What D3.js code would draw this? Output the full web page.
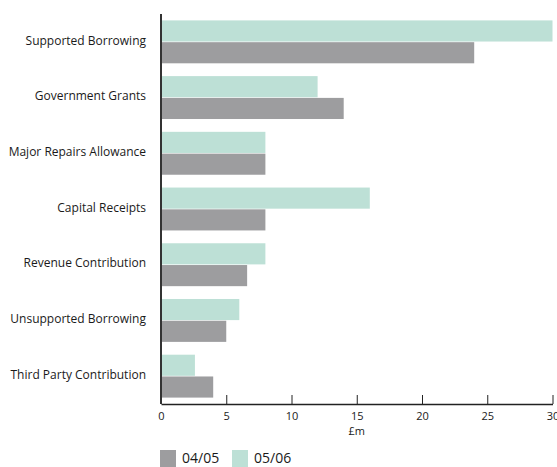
<!DOCTYPE html>
<html>
<head>
<meta charset="utf-8">
<script src="https://cdn.jsdelivr.net/npm/d3@7"></script>
<style>
  body { margin: 0; background: #fff; }
  svg { display: block; font-family: "Open Sans", "Noto Sans", sans-serif; }
</style>
</head>
<body>
<svg id="chart" width="557" height="467"></svg>
<script>
// Capital funding sources, £m
const categories = [
  "Supported Borrowing",
  "Government Grants",
  "Major Repairs Allowance",
  "Capital Receipts",
  "Revenue Contribution",
  "Unsupported Borrowing",
  "Third Party Contribution"
];
const seriesNames = ["05/06", "04/05"];
const values0405 = [24, 14, 8, 8, 6.6, 5, 4];
const values0506 = [30, 12, 8, 16, 8, 6, 2.6];
const xTicks = [0, 5, 10, 15, 20, 25, 30];
const legendItems = ["04/05", "05/06"];

const colors = { "04/05": "#9d9d9f", "05/06": "#bde0d6" };

const svg = d3.select("#chart");
const plotLeft = 161, plotRight = 552.5, plotTop = 14, plotBottom = 404;

const x = d3.scaleLinear().domain([0, 30]).range([plotLeft, plotRight]);
const y = d3.scaleBand().domain(categories).range([plotTop, plotBottom])
  .paddingInner(0.23).paddingOuter(0.115);
const sub = d3.scaleBand().domain(seriesNames).range([0, y.bandwidth()]).paddingInner(0.03);

const rows = categories.map((c, i) => ({
  cat: c,
  bars: [
    { key: "05/06", v: values0506[i] },
    { key: "04/05", v: values0405[i] }
  ]
}));

const groups = svg.append("g").selectAll("g").data(rows).join("g")
  .attr("transform", d => `translate(0,${y(d.cat)})`);

groups.selectAll("rect").data(d => d.bars).join("rect")
  .attr("x", x(0))
  .attr("y", d => sub(d.key))
  .attr("width", d => x(d.v) - x(0))
  .attr("height", sub.bandwidth())
  .attr("fill", d => colors[d.key]);

// Category labels
svg.append("g").selectAll("text").data(categories).join("text")
  .attr("x", 146)
  .attr("y", d => y(d) + y.bandwidth() / 2 - 0.5)
  .attr("text-anchor", "end")
  .attr("dominant-baseline", "middle")
  .attr("font-size", 12)
  .attr("fill", "#1a1a1a")
  .text(d => d);

// X axis with inward ticks
const xAxis = d3.axisBottom(x).tickValues(xTicks).tickSize(-9).tickPadding(8).tickSizeOuter(0);
const gx = svg.append("g").attr("transform", `translate(0,${plotBottom})`).call(xAxis);
gx.select(".domain").attr("stroke", "#222").attr("stroke-width", 1.3);
gx.selectAll(".tick line").attr("stroke", "#222");
gx.selectAll(".tick text").attr("font-size", 11).attr("fill", "#1a1a1a")
  .attr("font-family", "\"Open Sans\", sans-serif");

// Y axis line
svg.append("line")
  .attr("x1", x(0)).attr("x2", x(0))
  .attr("y1", plotTop).attr("y2", plotBottom)
  .attr("stroke", "#333").attr("stroke-width", 2);

// Axis title
svg.append("text")
  .attr("x", x(15)).attr("y", 435)
  .attr("text-anchor", "middle")
  .attr("font-size", 11).attr("fill", "#1a1a1a")
  .text("£m");

// Legend
const legend = svg.append("g").attr("transform", "translate(160,450)");
const li = legend.selectAll("g").data(legendItems).join("g")
  .attr("transform", (d, i) => `translate(${i * 72},0)`);
li.append("rect").attr("width", 16).attr("height", 17).attr("fill", d => colors[d]);
li.append("text").attr("x", 22).attr("y", 9).attr("dominant-baseline", "middle")
  .attr("font-size", 14).attr("fill", "#1a1a1a").text(d => d);
</script>
</body>
</html>
